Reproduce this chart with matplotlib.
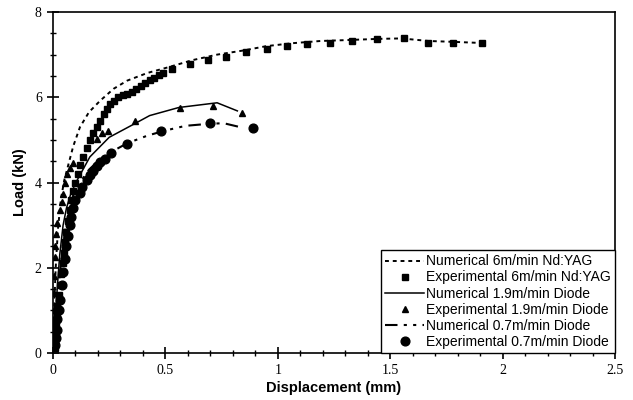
import matplotlib.pyplot as plt
from matplotlib.ticker import MultipleLocator

# Numerical 6m/min Nd:YAG
yag_num_x = [0, 0.005, 0.012, 0.022, 0.035, 0.05, 0.07, 0.09, 0.12, 0.16, 0.21, 0.27, 0.33,
             0.42, 0.51, 0.62, 0.73, 0.85, 0.95, 1.07, 1.19, 1.3, 1.45, 1.55, 1.67, 1.78, 1.92]
yag_num_y = [0, 1.0, 2.0, 2.9, 3.6, 4.05, 4.45, 4.85, 5.3, 5.65, 5.92, 6.2, 6.39,
             6.57, 6.7, 6.87, 7.0, 7.1, 7.2, 7.27, 7.32, 7.34, 7.37, 7.38, 7.32, 7.3, 7.27]

# Experimental 6m/min Nd:YAG
yag_exp_x = [0.01, 0.01, 0.012, 0.015, 0.018, 0.02, 0.025, 0.03, 0.035, 0.045, 0.05, 0.055,
             0.06, 0.068, 0.075, 0.082, 0.09, 0.1, 0.11, 0.12, 0.135, 0.15, 0.165, 0.18,
             0.195, 0.21, 0.225, 0.24, 0.255, 0.27, 0.29, 0.31, 0.33, 0.35, 0.37, 0.39,
             0.41, 0.43, 0.45, 0.47, 0.49, 0.53, 0.61, 0.69, 0.77, 0.86, 0.95, 1.04, 1.13,
             1.23, 1.33, 1.44, 1.56, 1.67, 1.78, 1.91]
yag_exp_y = [0.12, 0.3, 0.45, 0.7, 0.9, 1.1, 1.35, 1.6, 1.85, 2.1, 2.35, 2.6,
             2.85, 3.1, 3.35, 3.6, 3.8, 4.0, 4.2, 4.4, 4.6, 4.8, 5.0, 5.15,
             5.3, 5.45, 5.6, 5.72, 5.83, 5.92, 6.0, 6.05, 6.08, 6.13, 6.2, 6.27,
             6.33, 6.4, 6.45, 6.52, 6.58, 6.67, 6.78, 6.88, 6.95, 7.05, 7.13, 7.2, 7.25,
             7.28, 7.32, 7.37, 7.39, 7.28, 7.28, 7.27]

# Numerical 1.9m/min Diode
d19_num_x = [0, 0.01, 0.02, 0.03, 0.045, 0.06, 0.08, 0.107, 0.164, 0.25, 0.36, 0.43, 0.56, 0.73, 0.82]
d19_num_y = [0, 0.8, 1.6, 2.3, 3.0, 3.4, 3.75, 4.05, 4.6, 5.06, 5.37, 5.57, 5.76, 5.87, 5.68]

# Experimental 1.9m/min Diode
d19_exp_x = [0.002, 0.003, 0.004, 0.005, 0.007, 0.01, 0.015, 0.02, 0.03, 0.038, 0.045, 0.055,
             0.062, 0.075, 0.09, 0.195, 0.22, 0.245, 0.365, 0.565, 0.71, 0.84]
d19_exp_y = [0.7, 1.0, 1.4, 1.8, 2.25, 2.5, 2.8, 3.05, 3.35, 3.55, 3.74, 4.0,
             4.2, 4.35, 4.45, 5.03, 5.15, 5.2, 5.45, 5.75, 5.8, 5.64]

# Numerical 0.7m/min Diode
d07_num_x = [0, 0.01, 0.025, 0.04, 0.055, 0.07, 0.09, 0.12, 0.16, 0.2, 0.26, 0.33, 0.42,
             0.5, 0.59, 0.7, 0.76, 0.8, 0.84]
d07_num_y = [0, 0.8, 1.6, 2.3, 2.9, 3.3, 3.7, 4.0, 4.3, 4.5, 4.72, 4.92, 5.1,
             5.22, 5.33, 5.38, 5.39, 5.34, 5.29]

# Experimental 0.7m/min Diode
d07_exp_x = [0.01, 0.013, 0.017, 0.02, 0.025, 0.03, 0.04, 0.045, 0.053, 0.06, 0.067, 0.075,
             0.08, 0.09, 0.1, 0.12, 0.13, 0.15, 0.165, 0.18, 0.195, 0.21, 0.23, 0.26,
             0.33, 0.48, 0.70, 0.89]
d07_exp_y = [0.18, 0.35, 0.54, 0.8, 1.0, 1.24, 1.6, 1.9, 2.2, 2.5, 2.75, 3.0,
             3.2, 3.4, 3.6, 3.75, 3.9, 4.05, 4.17, 4.28, 4.38, 4.47, 4.56, 4.7,
             4.9, 5.2, 5.39, 5.28]

plt.rcParams['font.family'] = 'Liberation Sans'

fig = plt.figure(figsize=(6.33, 4.0), dpi=100)
ax = fig.add_axes([0.0837, 0.1175, 0.888, 0.8525])

ax.plot(yag_num_x, yag_num_y, color='k', lw=1.4, ls=(0, (2, 2)),
        label='Numerical 6m/min Nd:YAG')
ax.plot(yag_exp_x, yag_exp_y, 's', color='k', ms=4.5, ls='none',
        label='Experimental 6m/min Nd:YAG')
ax.plot(d19_num_x, d19_num_y, color='k', lw=1.1,
        label='Numerical 1.9m/min Diode')
ax.plot(d19_exp_x, d19_exp_y, '^', color='k', ms=4, ls='none',
        label='Experimental 1.9m/min Diode')
ax.plot(d07_num_x, d07_num_y, color='k', lw=1.5, ls=(0, (6, 3, 1.5, 3, 1.5, 3)),
        label='Numerical 0.7m/min Diode')
ax.plot(d07_exp_x, d07_exp_y, 'o', color='k', ms=6.3, ls='none',
        label='Experimental 0.7m/min Diode')

ax.set_xlim(0, 2.5)
ax.set_ylim(0, 8)
ax.xaxis.set_major_locator(MultipleLocator(0.5))
ax.xaxis.set_minor_locator(MultipleLocator(0.1))
ax.yaxis.set_major_locator(MultipleLocator(2))
ax.yaxis.set_minor_locator(MultipleLocator(0.5))
ax.tick_params(which='major', direction='inout', length=8, width=1.2)
ax.tick_params(which='minor', direction='inout', length=5, width=1)
ax.set_xticks([0, 0.5, 1, 1.5, 2, 2.5])
ax.set_xticklabels(['0', '0.5', '1', '1.5', '2', '2.5'], family='Liberation Serif', fontsize=10)
ax.set_yticks([0, 2, 4, 6, 8])
ax.set_yticklabels(['0', '2', '4', '6', '8'], family='Liberation Serif', fontsize=10)
ax.tick_params(axis='x', pad=4)
ax.tick_params(axis='y', pad=4)
for s in ax.spines.values():
    s.set_linewidth(1.2)

ax.set_xlabel('Displacement (mm)', fontsize=10.5, fontweight='bold', labelpad=3)
ax.set_ylabel('Load (kN)', fontsize=10.5, fontweight='bold', labelpad=6)

leg = ax.legend(loc='lower right', fontsize=10, frameon=True, fancybox=False,
                edgecolor='k', framealpha=1, borderaxespad=0, handlelength=2.8,
                labelspacing=0.15, handletextpad=0.15, borderpad=0.3)
leg.get_frame().set_linewidth(1.0)

fig.savefig('out.png', dpi=100)
